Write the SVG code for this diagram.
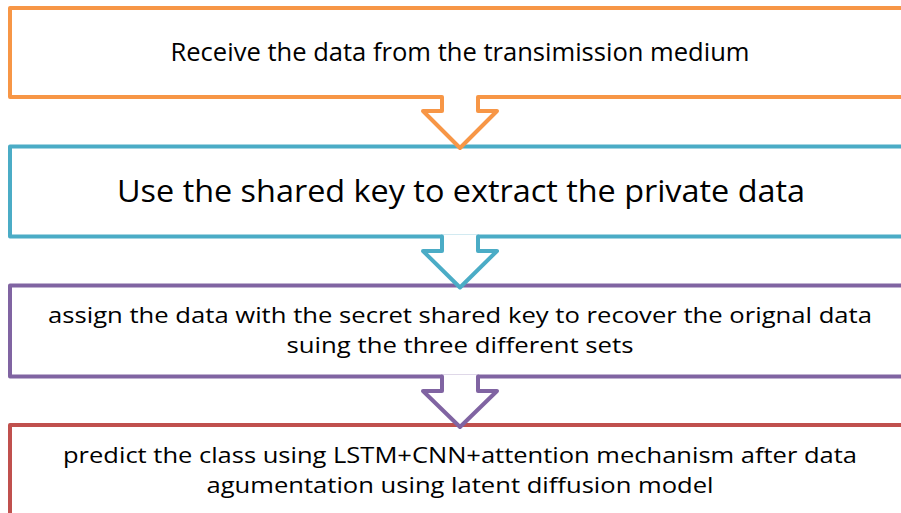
<svg xmlns="http://www.w3.org/2000/svg" width="901" height="513" viewBox="0 0 901 513">
  <style>
    .box { fill: #ffffff; stroke-width: 4; stroke-linejoin: round; }
    .arrow { fill: none; stroke-width: 4; stroke-linejoin: round; stroke-linecap: round; }
    .label { font-family: "Open Sans", "Noto Sans", sans-serif; fill: #000000; text-anchor: middle; font-size: 25px; }
    .big { font-size: 31px; }
    .two { font-size: 22px; }
    .orange { stroke: #F79646; }
    .blue { stroke: #4BACC6; }
    .purple { stroke: #8064A2; }
    .red { stroke: #C0504D; }
  </style>
  <rect width="901" height="513" fill="#ffffff"/>

  <g id="step-receive">
    <rect class="box orange" x="10" y="8" width="900" height="89"/>
    <text class="label" x="460" y="61" textLength="579" lengthAdjust="spacingAndGlyphs">Receive the data from the transimission medium</text>
  </g>

  <g id="step-extract">
    <rect class="box blue" x="10" y="146.5" width="900" height="90"/>
    <text class="label big" x="461" y="202" textLength="688" lengthAdjust="spacingAndGlyphs">Use the shared key to extract the private data</text>
  </g>

  <g id="step-recover">
    <rect class="box purple" x="10" y="285.5" width="900" height="91"/>
    <text class="label two" x="460" y="323" textLength="824" lengthAdjust="spacingAndGlyphs">assign the data with the secret shared key to recover the orignal data</text>
    <text class="label two" x="460" y="353" textLength="347" lengthAdjust="spacingAndGlyphs">suing the three different sets</text>
  </g>

  <g id="step-predict">
    <rect class="box red" x="10" y="425" width="900" height="110"/>
    <text class="label two" x="460" y="463" textLength="794" lengthAdjust="spacingAndGlyphs">predict the class using LSTM+CNN+attention mechanism after data</text>
    <text class="label two" x="460" y="493" textLength="507" lengthAdjust="spacingAndGlyphs">agumentation using latent diffusion model</text>
  </g>

  <g id="connectors">
    <!-- block arrows: white body hides the box edge under the stem, open outline on top -->
    <g>
      <polygon fill="#ffffff" points="442,95 478,95 478,111 497,111 460,148 423,111 442,111"/>
      <polyline class="arrow orange" points="442,97 442,111 423,111 460,148 497,111 478,111 478,97"/>
    </g>
    <g>
      <polygon fill="#ffffff" points="442,234.5 478,234.5 478,251 497,251 460,287.5 423,251 442,251"/>
      <polyline class="arrow blue" points="442,236.5 442,251 423,251 460,287.5 497,251 478,251 478,236.5"/>
    </g>
    <g>
      <polygon fill="#ffffff" points="442,374.5 478,374.5 478,391 497,391 460,427 423,391 442,391"/>
      <polyline class="arrow purple" points="442,376.5 442,391 423,391 460,427 497,391 478,391 478,376.5"/>
    </g>
  </g>
</svg>
